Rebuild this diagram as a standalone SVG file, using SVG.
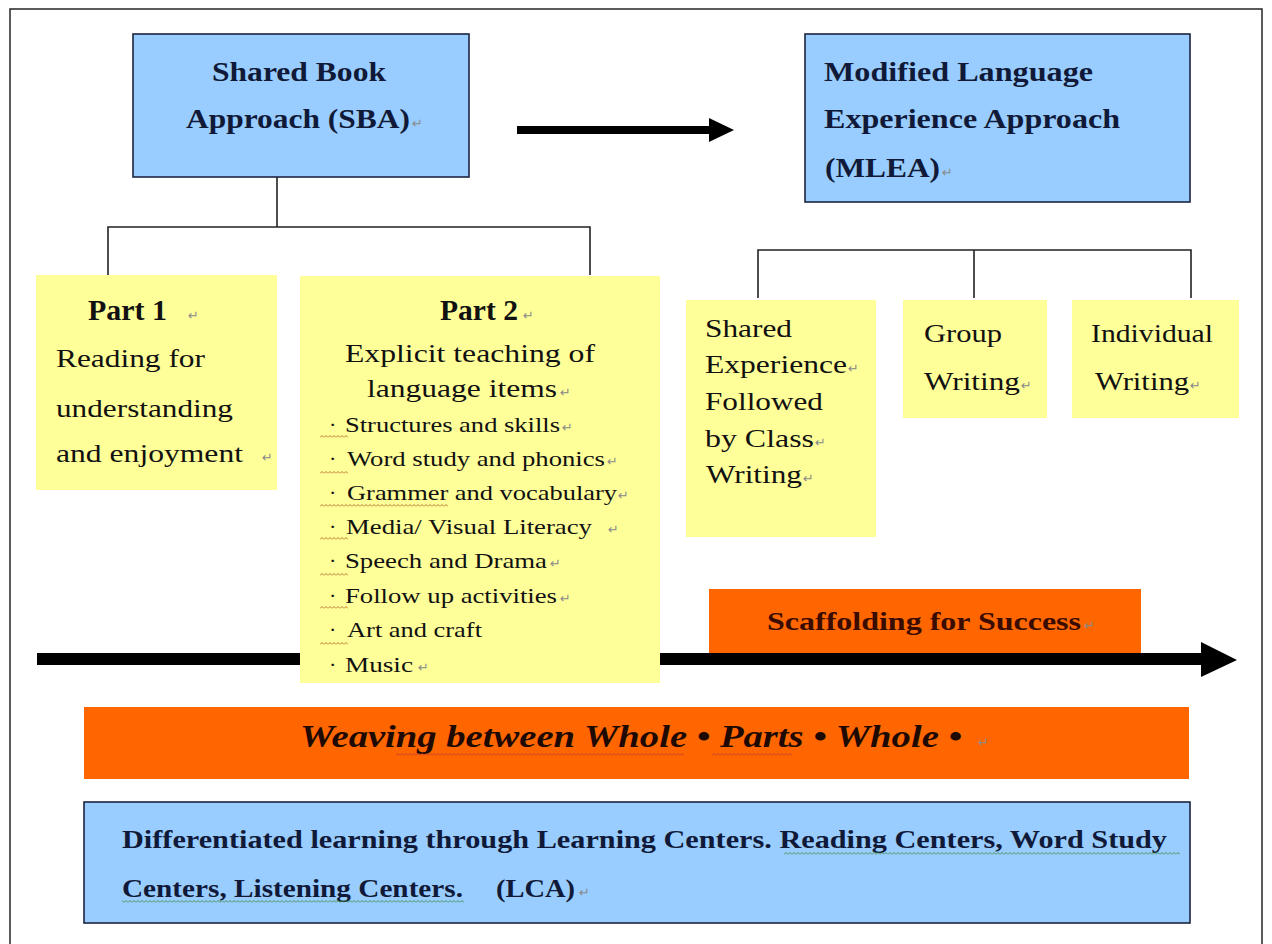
<svg xmlns="http://www.w3.org/2000/svg" width="1272" height="944" viewBox="0 0 1272 944">
  <defs>
    <style>
      .blue { fill: #99ccff; stroke: #1c2540; stroke-width: 1.6; }
      .yellow { fill: #ffff99; }
      .orange { fill: #ff6600; }
      .wire { fill: none; stroke: #222; stroke-width: 1.6; }
      .head { font-family: "Liberation Serif", "Times New Roman", serif; font-weight: bold; font-size: 28px; fill: #101a38; }
      .title { font-family: "Liberation Serif", "Times New Roman", serif; font-weight: bold; font-size: 29px; fill: #111; }
      .body { font-family: "Liberation Serif", "Times New Roman", serif; font-size: 26px; fill: #111; }
      .item { font-family: "Liberation Serif", "Times New Roman", serif; font-size: 22px; fill: #111; }
      .ret { font-family: "DejaVu Sans", sans-serif; font-size: 13px; fill: #8a8a8a; }
      .lca { font-family: "Liberation Serif", "Times New Roman", serif; font-weight: bold; font-size: 26px; fill: #101a38; }
    </style>
    <pattern id="wavyBrown" x="0" y="0" width="4" height="3" patternUnits="userSpaceOnUse">
      <path d="M0,2.5 L2,0.5 L4,2.5" fill="none" stroke="#b8682a" stroke-width="0.9"/>
    </pattern>
    <pattern id="wavyRed" x="0" y="0" width="4" height="3" patternUnits="userSpaceOnUse">
      <path d="M0,2.5 L2,0.5 L4,2.5" fill="none" stroke="#c0392b" stroke-width="0.9"/>
    </pattern>
    <pattern id="wavyGreen" x="0" y="0" width="4" height="3" patternUnits="userSpaceOnUse">
      <path d="M0,2.5 L2,0.5 L4,2.5" fill="none" stroke="#3d8f3d" stroke-width="0.9"/>
    </pattern>
  </defs>

  <rect width="1272" height="944" fill="#ffffff"/>
  <!-- page frame -->
  <rect x="10" y="9" width="1252" height="960" fill="none" stroke="#333" stroke-width="1.6"/>

  <!-- connectors -->
  <g id="connectors">
    <!-- SBA tree -->
    <path class="wire" d="M277,177 V227 M108,275 V227 H590 V275"/>
    <!-- MLEA tree -->
    <path class="wire" d="M758,298 V250 H1191 V298 M974,250 V298"/>
    <!-- SBA to MLEA arrow -->
    <rect x="517" y="126" width="194" height="8" fill="#000"/>
    <polygon points="709,118 734,130 709,142" fill="#000"/>
    <!-- progression arrow -->
    <rect x="37" y="653" width="1166" height="12" fill="#000"/>
    <polygon points="1201,642 1237,660 1201,677" fill="#000"/>
  </g>

  <g id="sba">
    <rect class="blue" x="133" y="34" width="336" height="143"/>
    <text class="head" x="212" y="81" textLength="174" lengthAdjust="spacingAndGlyphs">Shared Book</text>
    <text class="head" x="186" y="128" textLength="224" lengthAdjust="spacingAndGlyphs">Approach (SBA)</text>
    <text class="ret" x="412" y="128">↵</text>
  </g>

  <g id="mlea">
    <rect class="blue" x="805" y="34" width="385" height="168"/>
    <text class="head" x="824" y="81" textLength="269" lengthAdjust="spacingAndGlyphs">Modified Language</text>
    <text class="head" x="824" y="128" textLength="296" lengthAdjust="spacingAndGlyphs">Experience Approach</text>
    <text class="head" x="825" y="177" textLength="115" lengthAdjust="spacingAndGlyphs">(MLEA)</text>
    <text class="ret" x="942" y="177">↵</text>
  </g>

  <g id="part1">
    <rect class="yellow" x="36" y="275" width="241" height="215"/>
    <text class="title" x="88" y="320" textLength="79" lengthAdjust="spacingAndGlyphs">Part 1</text>
    <text class="ret" x="188" y="320">↵</text>
    <text class="body" x="56" y="367" textLength="149" lengthAdjust="spacingAndGlyphs">Reading for</text>
    <text class="body" x="56" y="417" textLength="177" lengthAdjust="spacingAndGlyphs">understanding</text>
    <text class="body" x="56" y="462" textLength="187" lengthAdjust="spacingAndGlyphs">and enjoyment</text>
    <text class="ret" x="262" y="462">↵</text>
  </g>

  <g id="part2">
    <rect class="yellow" x="300" y="276" width="360" height="407"/>
    <text class="title" x="440" y="320" textLength="78" lengthAdjust="spacingAndGlyphs">Part 2</text>
    <text class="ret" x="523" y="320">↵</text>
    <text class="body" x="345" y="362" textLength="250" lengthAdjust="spacingAndGlyphs">Explicit teaching of</text>
    <text class="body" x="367" y="397" textLength="190" lengthAdjust="spacingAndGlyphs">language items</text>
    <text class="ret" x="560" y="397">↵</text>
    <!-- bullet dots -->
    <g class="item">
      <text x="329" y="432">·</text>
      <text x="329" y="466">·</text>
      <text x="329" y="500">·</text>
      <text x="329" y="534">·</text>
      <text x="329" y="568">·</text>
      <text x="329" y="603">·</text>
      <text x="329" y="637">·</text>
      <text x="329" y="672">·</text>
    </g>
    <text class="item" x="345" y="432" textLength="215" lengthAdjust="spacingAndGlyphs">Structures and skills</text>
    <text class="item" x="347" y="466" textLength="258" lengthAdjust="spacingAndGlyphs">Word study and phonics</text>
    <text class="item" x="347" y="500" textLength="270" lengthAdjust="spacingAndGlyphs">Grammer and vocabulary</text>
    <text class="item" x="346" y="534" textLength="246" lengthAdjust="spacingAndGlyphs">Media/ Visual Literacy</text>
    <text class="item" x="345" y="568" textLength="202" lengthAdjust="spacingAndGlyphs">Speech and Drama</text>
    <text class="item" x="345" y="603" textLength="212" lengthAdjust="spacingAndGlyphs">Follow up activities</text>
    <text class="item" x="347" y="637" textLength="135" lengthAdjust="spacingAndGlyphs">Art and craft</text>
    <text class="item" x="345" y="672" textLength="68" lengthAdjust="spacingAndGlyphs">Music</text>
    <text class="ret" x="562" y="432">↵</text>
    <text class="ret" x="607" y="466">↵</text>
    <text class="ret" x="618" y="500">↵</text>
    <text class="ret" x="608" y="534">↵</text>
    <text class="ret" x="550" y="568">↵</text>
    <text class="ret" x="560" y="603">↵</text>
    <text class="ret" x="418" y="672">↵</text>
    <!-- spell-check marks -->
    <rect x="320" y="435" width="28" height="3" fill="url(#wavyBrown)"/>
    <rect x="320" y="471" width="28" height="3" fill="url(#wavyBrown)"/>
    <rect x="320" y="504" width="128" height="3" fill="url(#wavyBrown)"/>
    <rect x="320" y="537" width="28" height="3" fill="url(#wavyBrown)"/>
    <rect x="320" y="573" width="28" height="3" fill="url(#wavyBrown)"/>
    <rect x="320" y="606" width="28" height="3" fill="url(#wavyBrown)"/>
    <rect x="320" y="642" width="28" height="3" fill="url(#wavyBrown)"/>
  </g>

  <g id="shared-writing">
    <rect class="yellow" x="686" y="300" width="190" height="237"/>
    <text class="body" x="705" y="337" textLength="87" lengthAdjust="spacingAndGlyphs">Shared</text>
    <text class="body" x="705" y="373" textLength="142" lengthAdjust="spacingAndGlyphs">Experience</text>
    <text class="ret" x="848" y="373">↵</text>
    <text class="body" x="705" y="410" textLength="118" lengthAdjust="spacingAndGlyphs">Followed</text>
    <text class="body" x="705" y="447" textLength="109" lengthAdjust="spacingAndGlyphs">by Class</text>
    <text class="ret" x="815" y="447">↵</text>
    <text class="body" x="706" y="483" textLength="96" lengthAdjust="spacingAndGlyphs">Writing</text>
    <text class="ret" x="803" y="483">↵</text>
  </g>

  <g id="group-writing">
    <rect class="yellow" x="903" y="300" width="144" height="118"/>
    <text class="body" x="924" y="342" textLength="78" lengthAdjust="spacingAndGlyphs">Group</text>
    <text class="body" x="924" y="390" textLength="96" lengthAdjust="spacingAndGlyphs">Writing</text>
    <text class="ret" x="1021" y="390">↵</text>
  </g>

  <g id="individual-writing">
    <rect class="yellow" x="1072" y="300" width="167" height="118"/>
    <text class="body" x="1091" y="342" textLength="122" lengthAdjust="spacingAndGlyphs">Individual</text>
    <text class="body" x="1095" y="390" textLength="94" lengthAdjust="spacingAndGlyphs">Writing</text>
    <text class="ret" x="1190" y="390">↵</text>
  </g>

  <g id="scaffolding">
    <rect class="orange" x="709" y="589" width="432" height="64"/>
    <text x="767" y="630" textLength="314" lengthAdjust="spacingAndGlyphs" font-family="Liberation Serif, Times New Roman, serif" font-weight="bold" font-size="26" fill="#3a0c00">Scaffolding for Success</text>
    <text class="ret" x="1084" y="630" fill="#c46a3a">↵</text>
  </g>

  <g id="weaving">
    <rect class="orange" x="84" y="707" width="1105" height="72"/>
    <text x="300" y="747" textLength="662" lengthAdjust="spacingAndGlyphs" font-family="Liberation Serif, Times New Roman, serif" font-weight="bold" font-style="italic" font-size="31" fill="#1e0a02">Weaving between Whole • Parts • Whole •</text>
    <text class="ret" x="978" y="747" fill="#b06a40">↵</text>
    <rect x="396" y="753" width="288" height="3" fill="url(#wavyRed)"/>
    <rect x="712" y="753" width="80" height="3" fill="url(#wavyRed)"/>
  </g>

  <g id="lca">
    <rect class="blue" x="84" y="802" width="1106" height="121"/>
    <text class="lca" x="122" y="848" textLength="1045" lengthAdjust="spacingAndGlyphs">Differentiated learning through Learning Centers. Reading Centers, Word Study</text>
    <text class="lca" x="122" y="897" textLength="341" lengthAdjust="spacingAndGlyphs">Centers, Listening Centers.</text>
    <text class="lca" x="496" y="897" textLength="79" lengthAdjust="spacingAndGlyphs">(LCA)</text>
    <text class="ret" x="579" y="897">↵</text>
    <rect x="784" y="852" width="396" height="3" fill="url(#wavyGreen)"/>
    <rect x="122" y="900" width="342" height="3" fill="url(#wavyGreen)"/>
  </g>
</svg>
